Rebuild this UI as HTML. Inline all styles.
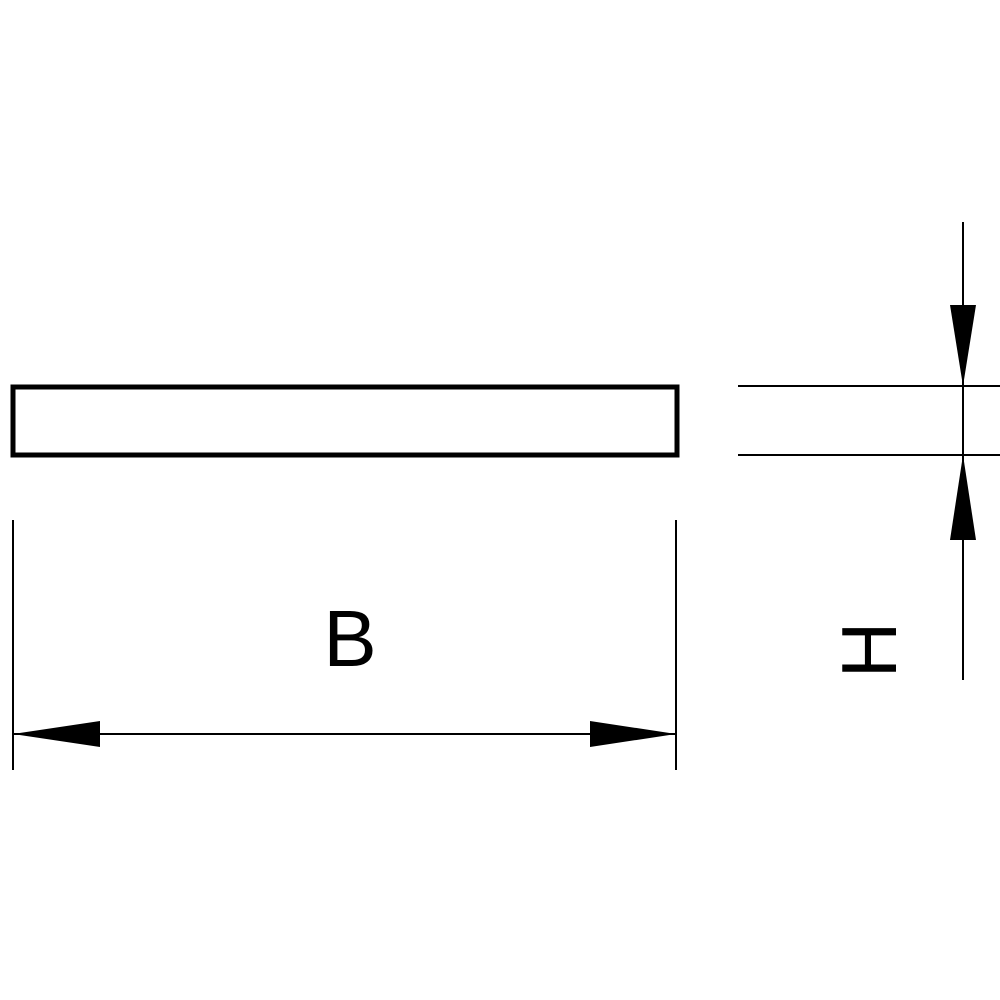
<!DOCTYPE html>
<html><head><meta charset="utf-8"><style>html,body{margin:0;padding:0;background:#fff}svg{display:block}</style></head>
<body>
<svg width="1000" height="1000" viewBox="0 0 1000 1000" xmlns="http://www.w3.org/2000/svg">
<rect x="13" y="387" width="664" height="68" fill="none" stroke="#000" stroke-width="5"/>
<g stroke="#000" stroke-width="2" fill="none">
<line x1="13" y1="520" x2="13" y2="770"/>
<line x1="676" y1="520" x2="676" y2="770"/>
<line x1="13" y1="734" x2="676" y2="734"/>
<line x1="738" y1="386" x2="1000" y2="386"/>
<line x1="738" y1="455" x2="1000" y2="455"/>
<line x1="963" y1="222" x2="963" y2="680"/>
</g>
<polygon points="13,734 100,721 100,747" fill="#000"/>
<polygon points="676,734 590,721 590,747" fill="#000"/>
<polygon points="963,386 950,305 976,305" fill="#000"/>
<polygon points="963,455 950,540 976,540" fill="#000"/>
<text x="350" y="666" font-family="Liberation Sans, sans-serif" font-size="80" text-anchor="middle">B</text>
<text x="0" y="0" font-family="Liberation Sans, sans-serif" font-size="78" text-anchor="middle" transform="translate(896,650) rotate(-90)">H</text>
</svg>
</body></html>
